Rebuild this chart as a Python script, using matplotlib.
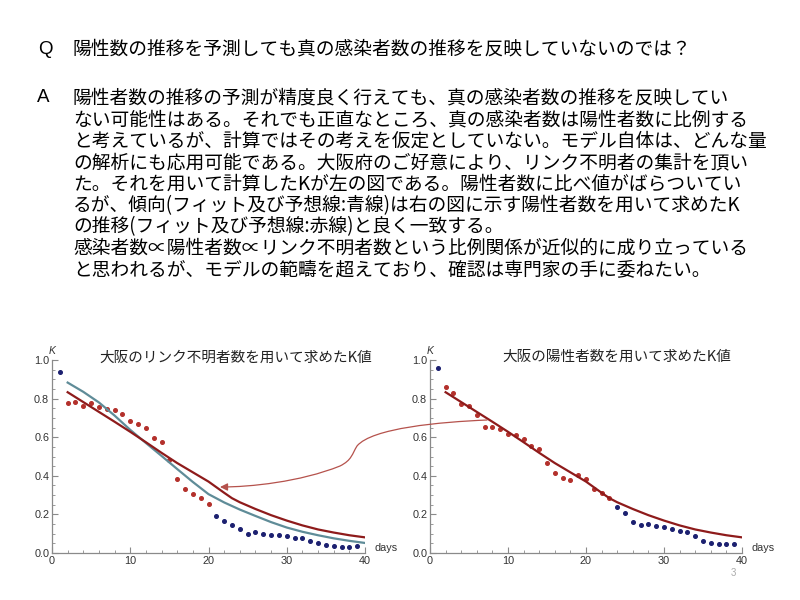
import numpy as np
import matplotlib
matplotlib.use('Agg')
import matplotlib.pyplot as plt
from matplotlib.path import Path
from matplotlib.patches import FancyArrowPatch
from matplotlib.ticker import MultipleLocator

plt.rcParams['font.family'] = ['Noto Sans CJK JP', 'DejaVu Sans']

# --- text of the slide ---
q_text = '陽性数の推移を予測しても真の感染者数の推移を反映していないのでは？'
a_lines = [
    '陽性者数の推移の予測が精度良く行えても、真の感染者数の推移を反映してい',
    'ない可能性はある。それでも正直なところ、真の感染者数は陽性者数に比例する',
    'と考えているが、計算ではその考えを仮定としていない。モデル自体は、どんな量',
    'の解析にも応用可能である。大阪府のご好意により、リンク不明者の集計を頂い',
    'た。それを用いて計算したKが左の図である。陽性者数に比べ値がばらついてい',
    'るが、傾向(フィット及び予想線:青線)は右の図に示す陽性者数を用いて求めたK',
    'の推移(フィット及び予想線:赤線)と良く一致する。',
    '感染者数∝陽性者数∝リンク不明者数という比例関係が近似的に成り立っている',
    'と思われるが、モデルの範疇を超えており、確認は専門家の手に委ねたい。',
]
title_left = '大阪のリンク不明者数を用いて求めたK値'
title_right = '大阪の陽性者数を用いて求めたK値'

# --- data ---
days = list(range(1, 40))
# left: K from unlinked cases
k_unlinked = [0.936, 0.776, 0.784, 0.764, 0.779, 0.759, 0.747, 0.741, 0.721, 0.686,
              0.669, 0.650, 0.595, 0.576, 0.483, 0.384, 0.333, 0.307, 0.284, 0.253,
              0.193, 0.167, 0.147, 0.124, 0.098, 0.109, 0.100, 0.095, 0.095, 0.090,
              0.079, 0.079, 0.064, 0.053, 0.043, 0.038, 0.033, 0.033, 0.038]
# which points are red (used in fit) in the left chart
fit_left = [False] + [True] * 19 + [False] * 19
# right: K from positive cases
k_positive = [0.960, 0.862, 0.828, 0.772, 0.764, 0.716, 0.655, 0.655, 0.641, 0.616,
              0.609, 0.591, 0.555, 0.540, 0.464, 0.412, 0.391, 0.376, 0.402, 0.381,
              0.333, 0.310, 0.284, 0.236, 0.209, 0.160, 0.147, 0.152, 0.141, 0.133,
              0.122, 0.116, 0.107, 0.086, 0.064, 0.053, 0.048, 0.048, 0.048]
fit_right = [False] + [True] * 22 + [False] * 16

# fit / forecast lines
red_days = [2, 4, 6, 8, 10, 12, 14, 16, 18, 20, 22, 23, 24, 26, 28, 30, 32, 34, 36, 38, 40]
red_fit = [0.833, 0.782, 0.731, 0.680, 0.628, 0.574, 0.519, 0.466, 0.418, 0.370, 0.312,
           0.284, 0.263, 0.228, 0.196, 0.168, 0.143, 0.122, 0.106, 0.092, 0.081]
blue_days = [2, 4, 6, 8, 10, 12, 14, 16, 18, 20, 22, 24, 26, 28, 30, 32, 34, 36, 38, 40]
blue_fit = [0.883, 0.835, 0.780, 0.712, 0.638, 0.570, 0.503, 0.435, 0.368, 0.305, 0.262,
            0.225, 0.192, 0.160, 0.132, 0.110, 0.092, 0.076, 0.063, 0.052]

red_pt = '#b3302b'
blue_pt = '#1c2070'
red_ln = '#8e1b1b'
blue_ln = '#5f8c98'
axis_c = '#8a8a8a'

fig = plt.figure(figsize=(8, 6), dpi=100)

fig.text(38 / 800, 1 - 49 / 600, 'Q', fontsize=13.5, family='Liberation Sans', va='center')
fig.text(73 / 800, 1 - 49 / 600, q_text, fontsize=13.5, va='center')
fig.text(37 / 800, 1 - 98 / 600, 'A', fontsize=13.5, family='Liberation Sans', va='center')
for i, line in enumerate(a_lines):
    fig.text(73 / 800, 1 - (98 + 21.5 * i) / 600, line, fontsize=13.5, va='center')


def draw_panel(ax, k_vals, fit_mask, lines):
    d = np.array(days)
    k = np.array(k_vals)
    m = np.array(fit_mask)
    ax.plot(d[m], k[m], 'o', ms=2.6, color=red_pt, mec=red_pt)
    ax.plot(d[~m], k[~m], 'o', ms=2.6, color=blue_pt, mec=blue_pt)
    for xs, vals, c in lines:
        ax.plot(xs, vals, color=c, lw=1.6)
    ax.set_xlim(0, 40)
    ax.set_ylim(0, 1.0)
    for s in ['top', 'right']:
        ax.spines[s].set_visible(False)
    for s in ['left', 'bottom']:
        ax.spines[s].set_color(axis_c)
        ax.spines[s].set_linewidth(0.9)
    ax.xaxis.set_major_locator(MultipleLocator(10))
    ax.xaxis.set_minor_locator(MultipleLocator(2))
    ax.yaxis.set_major_locator(MultipleLocator(0.2))
    ax.yaxis.set_minor_locator(MultipleLocator(0.05))
    ax.yaxis.set_major_formatter(matplotlib.ticker.FormatStrFormatter('%.1f'))
    ax.tick_params(which='both', direction='in', color=axis_c, labelsize=7.8,
                   labelcolor='#333333', pad=2)
    ax.tick_params(which='major', length=4)
    ax.tick_params(which='minor', length=2)
    for lab in ax.get_xticklabels() + ax.get_yticklabels():
        lab.set_family('Liberation Sans')
    ax.text(0, 1.02, 'K', transform=ax.transAxes, fontsize=7.5, style='italic',
            family='Liberation Sans', color='#333333', ha='center', va='bottom')
    ax.text(1.03, 0.0, 'days', transform=ax.transAxes, fontsize=7.8,
            family='Liberation Sans', color='#333333', ha='left', va='bottom')


ax1 = fig.add_axes([52 / 800, 1 - 553 / 600, 313 / 800, 193 / 600])
draw_panel(ax1, k_unlinked, fit_left,
           [(blue_days, blue_fit, blue_ln), (red_days, red_fit, red_ln)])
ax2 = fig.add_axes([430 / 800, 1 - 553 / 600, 312 / 800, 193 / 600])
draw_panel(ax2, k_positive, fit_right, [(red_days, red_fit, red_ln)])

fig.text(236 / 800, 1 - 358 / 600, title_left, fontsize=10.5, ha='center', va='center',
         color='#222222')
fig.text(617 / 800, 1 - 357 / 600, title_right, fontsize=10.5, ha='center', va='center',
         color='#222222')

# curved arrow from the right chart to the left chart
pts = [(487, 420), (440, 422), (372, 428), (357, 446),
       (352, 454), (352, 460), (340, 466),
       (300, 482), (250, 487), (220, 487)]
codes = [Path.MOVETO, Path.CURVE4, Path.CURVE4, Path.CURVE4,
         Path.CURVE4, Path.CURVE4, Path.CURVE4,
         Path.CURVE4, Path.CURVE4, Path.CURVE4]
arrow_path = Path([(x / 800, 1 - y / 600) for x, y in pts], codes)
arrow = FancyArrowPatch(path=arrow_path, transform=fig.transFigure, arrowstyle='-|>',
                        mutation_scale=11, color='#b5524c', lw=0.9)
fig.patches.append(arrow)

fig.text(733 / 800, 1 - 573 / 600, '3', fontsize=7, color='#aaaaaa', ha='center',
         va='center', family='Liberation Sans')

fig.savefig('out.png', dpi=100)
